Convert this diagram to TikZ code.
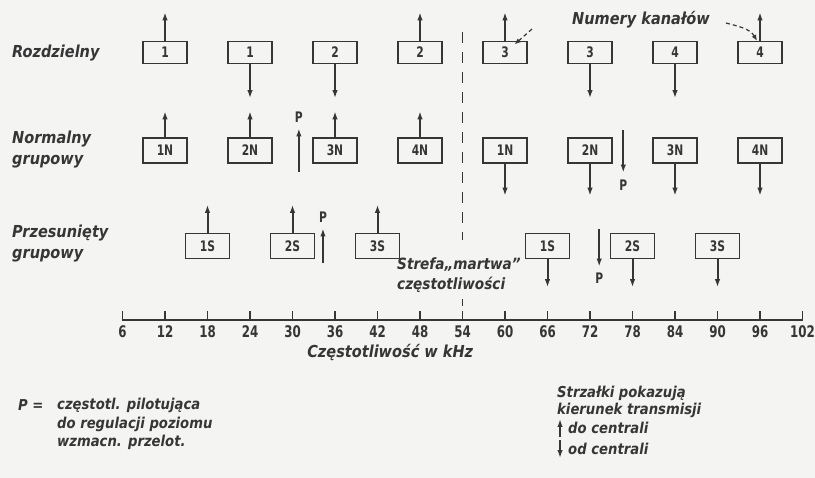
\documentclass[tikz,border=0pt]{standalone}
\usepackage{fontspec}
\setmainfont{DejaVu Sans}
\newfontfamily\lettering{DejaVu Sans}[FakeStretch=0.88]
\newfontfamily\tagfont{DejaVu Sans}[FakeStretch=0.74]
\usepackage{tikz}
\usetikzlibrary{arrows.meta,positioning}
\definecolor{ink}{HTML}{363636}
\definecolor{paper}{HTML}{F4F4F2}

\tikzset{
  chan/.style={draw=ink,line width=1.3pt,minimum width=44pt,minimum height=25pt,inner sep=0pt,text=ink,font=\tagfont\bfseries\fontsize{14.5}{15}\selectfont},
  txarrow/.style={draw=ink,line width=2pt,->},
  plab/.style={inner sep=6pt,text=ink,font=\tagfont\bfseries\fontsize{14.5}{15}\selectfont},
  lett/.style={inner sep=0pt,align=left,text=ink,font=\lettering\bfseries\itshape\fontsize{16.5}{21}\selectfont},
  legend/.style={inner sep=0pt,align=left,text=ink,font=\lettering\bfseries\itshape\fontsize{15}{18.5}\selectfont},
  ticklab/.style={inner sep=0pt,text=ink,font=\tagfont\bfseries\fontsize{16}{17}\selectfont},
  axis/.style={draw=ink,line width=2pt},
  tickmark/.style={draw=ink,line width=1.4pt},
  zone/.style={draw=ink,line width=1.4pt,dash pattern=on 11pt off 9pt},
  pointer/.style={draw=ink,line width=1.2pt,dash pattern=on 4pt off 3pt,-{Latex[length=6pt,width=5pt]}}
}

\begin{document}
\begin{tikzpicture}[x=7.0833pt,y=-1pt,>={Latex[length=8pt,width=5.5pt]}]
% paper
\fill[paper] (-11.294,0) rectangle (103.765,478);
% row labels
\node[lett,anchor=west] (lsep) at (-9.6,53) {Rozdzielny};
\node[lett,anchor=west] (lnorm) at (-9.6,150) {Normalny\\grupowy};
\node[lett,anchor=west] (lshift) at (-9.6,244) {Przesunięty\\grupowy};
% separate channels
\node[chan,minimum height=22pt] (r1a) at (12,52.5) {1};
\node[chan,minimum height=22pt] (r1b) at (24,52.5) {1};
\node[chan,minimum height=22pt] (r1c) at (36,52.5) {2};
\node[chan,minimum height=22pt] (r1d) at (48,52.5) {2};
\node[chan,minimum height=22pt] (r1e) at (60,52.5) {3};
\node[chan,minimum height=22pt] (r1f) at (72,52.5) {3};
\node[chan,minimum height=22pt] (r1g) at (84,52.5) {4};
\node[chan,minimum height=22pt] (r1h) at (96,52.5) {4};
\draw[txarrow] (r1a.north) -- ++(0,-28.5);
\draw[txarrow] (r1b.south) -- ++(0,34);
\draw[txarrow] (r1c.south) -- ++(0,34);
\draw[txarrow] (r1d.north) -- ++(0,-28.5);
\draw[txarrow] (r1e.north) -- ++(0,-28.5);
\draw[txarrow] (r1f.south) -- ++(0,34);
\draw[txarrow] (r1g.south) -- ++(0,34);
\draw[txarrow] (r1h.north) -- ++(0,-28.5);
% channel numbers note
\node[lett] (numk) at (79.2,20) {Numery kanałów};
\draw[pointer] ([xshift=-40pt,yshift=-9pt]numk.west) -- ([xshift=-13pt,yshift=-3.5pt]r1e.north east);
\draw[pointer] ([xshift=16pt,yshift=-3pt]numk.east) to[out=-15,in=120] ([xshift=-3pt]r1h.north);
% normal group
\node[chan] (r2a) at (12,150.5) {1N};
\node[chan] (r2b) at (24,150.5) {2N};
\node[chan] (r2c) at (36,150.5) {3N};
\node[chan] (r2d) at (48,150.5) {4N};
\node[chan] (r2e) at (60,150.5) {1N};
\node[chan] (r2f) at (72,150.5) {2N};
\node[chan] (r2g) at (84,150.5) {3N};
\node[chan] (r2h) at (96,150.5) {4N};
\draw[txarrow] (r2a.north) -- ++(0,-26);
\draw[txarrow] (r2b.north) -- ++(0,-26);
\draw[txarrow] (r2c.north) -- ++(0,-26);
\draw[txarrow] (r2d.north) -- ++(0,-26);
\draw[txarrow] (r2e.south) -- ++(0,32);
\draw[txarrow] (r2f.south) -- ++(0,32);
\draw[txarrow] (r2g.south) -- ++(0,32);
\draw[txarrow] (r2h.south) -- ++(0,32);
% pilots, normal group
\node[plab] (pa) at (30.9,117) {P};
\coordinate (pafoot) at (30.9,172);
\draw[txarrow] (pafoot) -- (pa);
\node[plab,inner sep=7pt] (pb) at (76.7,185) {P};
\coordinate (pbtop) at (76.7,130);
\draw[txarrow] (pbtop) -- (pb);
% shifted group
\node[chan] (r3a) at (18,246) {1S};
\node[chan] (r3b) at (30,246) {2S};
\node[chan] (r3c) at (42,246) {3S};
\node[chan] (r3d) at (66,246) {1S};
\node[chan] (r3e) at (78,246) {2S};
\node[chan] (r3f) at (90,246) {3S};
\draw[txarrow] (r3a.north) -- ++(0,-28);
\draw[txarrow] (r3b.north) -- ++(0,-28);
\draw[txarrow] (r3c.north) -- ++(0,-28);
\draw[txarrow] (r3d.south) -- ++(0,28);
\draw[txarrow] (r3e.south) -- ++(0,28);
\draw[txarrow] (r3f.south) -- ++(0,28);
% pilots, shifted group
\node[plab] (pc) at (34.3,217) {P};
\coordinate (pcfoot) at (34.3,263);
\draw[txarrow] (pcfoot) -- (pc);
\node[plab] (pd) at (73.3,278) {P};
\coordinate (pdtop) at (73.3,229);
\draw[txarrow] (pdtop) -- (pd);
% dead zone
\draw[zone] (54,32) -- (54,240);
\draw[zone] (54,299) -- (54,306);
\node[lett,anchor=west,font=\lettering\bfseries\itshape\fontsize{15.5}{20}\selectfont] (dead) at (44.75,275) {Strefa„martwa”\\częstotliwości};
% frequency axis
\draw[axis] (6,320) -- (102,320);
\draw[tickmark] (6,311) -- (6,320);   \node[ticklab] (t6) at (6,332) {6};
\draw[tickmark] (12,311) -- (12,320); \node[ticklab] (t12) at (12,332) {12};
\draw[tickmark] (18,311) -- (18,320); \node[ticklab] (t18) at (18,332) {18};
\draw[tickmark] (24,311) -- (24,320); \node[ticklab] (t24) at (24,332) {24};
\draw[tickmark] (30,311) -- (30,320); \node[ticklab] (t30) at (30,332) {30};
\draw[tickmark] (36,311) -- (36,320); \node[ticklab] (t36) at (36,332) {36};
\draw[tickmark] (42,311) -- (42,320); \node[ticklab] (t42) at (42,332) {42};
\draw[tickmark] (48,311) -- (48,320); \node[ticklab] (t48) at (48,332) {48};
\draw[tickmark] (54,311) -- (54,320); \node[ticklab] (t54) at (54,332) {54};
\draw[tickmark] (60,311) -- (60,320); \node[ticklab] (t60) at (60,332) {60};
\draw[tickmark] (66,311) -- (66,320); \node[ticklab] (t66) at (66,332) {66};
\draw[tickmark] (72,311) -- (72,320); \node[ticklab] (t72) at (72,332) {72};
\draw[tickmark] (78,311) -- (78,320); \node[ticklab] (t78) at (78,332) {78};
\draw[tickmark] (84,311) -- (84,320); \node[ticklab] (t84) at (84,332) {84};
\draw[tickmark] (90,311) -- (90,320); \node[ticklab] (t90) at (90,332) {90};
\draw[tickmark] (96,311) -- (96,320); \node[ticklab] (t96) at (96,332) {96};
\draw[tickmark] (102,311) -- (102,320); \node[ticklab] (t102) at (102,332) {102};
\node[lett] (freq) at (43.8,352) {Częstotliwość w kHz};
% legend, pilot
\node[legend,anchor=north west] (pkey) at (-8.75,399) {P =};
\node[legend,anchor=north west] (pdesc) at (-3.25,398) {częstotl. pilotująca\\do regulacji poziomu\\wzmacn. przelot.};
% legend, arrows
\node[legend,anchor=north west,font=\lettering\bfseries\itshape\fontsize{15}{16.5}\selectfont] (dirs) at (67.34,386) {Strzałki pokazują\\kierunek transmisji};
\node[legend,anchor=west] (ldo) at (68.9,428) {do centrali};
\node[legend,anchor=west] (lod) at (68.9,449) {od centrali};
\draw[txarrow,line width=1.6pt] ([xshift=-8pt,yshift=-3pt]ldo.south west) -- ([xshift=-8pt,yshift=3pt]ldo.north west);
\draw[txarrow,line width=1.6pt] ([xshift=-8pt,yshift=3pt]lod.north west) -- ([xshift=-8pt,yshift=-3pt]lod.south west);
\end{tikzpicture}
\end{document}
